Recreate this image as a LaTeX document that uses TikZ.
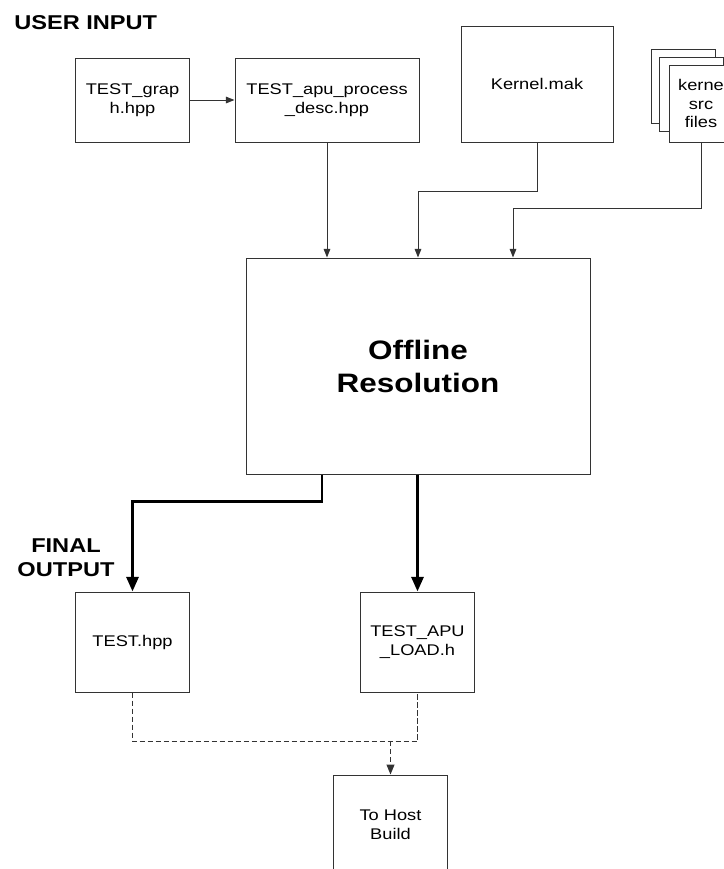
\documentclass[tikz,border=0pt]{standalone}
\usepackage{fontspec}
\setmainfont{Liberation Sans}[FakeStretch=1.18, Ligatures=CommonOff]
\usetikzlibrary{arrows.meta}

\tikzset{
  filebox/.style={draw=black!80, line width=0.75pt, fill=white, align=center,
    inner sep=0pt, font=\fontsize{11.6}{14}\selectfont},
  heading/.style={font=\fontsize{15}{18}\bfseries, align=center, inner sep=0pt},
  thinarrow/.style={draw=black!80, line width=0.75pt, -{Triangle[width=5pt,length=6.5pt]}},
  thickarrow/.style={line width=2.2pt, -{Triangle[width=9pt,length=11pt]}},
  dashline/.style={draw=black!80, line width=0.75pt, dash pattern=on 4pt off 2pt},
}

\begin{document}
\begin{tikzpicture}[x=0.75pt, y=-0.75pt]
\useasboundingbox (0,0) rectangle (724,869);
\clip (0,0) rectangle (724,869);

% labels
\node[heading, anchor=base west] (userinput) at (14,29) {USER INPUT};
\node[heading] (finalout) at (66,558) {FINAL\\OUTPUT};

% user input files
\node[filebox, minimum width=86pt, minimum height=63pt] (graph) at (132.5,100) {TEST\_grap\\h.hpp};
\node[filebox, minimum width=138pt, minimum height=63pt] (apu) at (327,100) {TEST\_apu\_process\\\_desc.hpp};
\node[filebox, minimum width=114pt, minimum height=87pt] (kmak) at (537,84) {Kernel.mak};
\node[filebox, minimum width=48pt, minimum height=55.5pt] (srcback) at (683,86) {};
\node[filebox, minimum width=48pt, minimum height=55.5pt] (srcmid) at (691,94) {};
\node[filebox, minimum width=48pt, minimum height=57.75pt] (srcfront) at (701,103.5) {kerne\\src\\files};

% resolver
\node[filebox, minimum width=258pt, minimum height=162pt,
  font=\fontsize{20}{24.75}\bfseries] (offline) at (418,366) {Offline\\Resolution};

% outputs
\node[filebox, minimum width=86pt, minimum height=75pt] (hpp) at (132.5,642) {TEST.hpp};
\node[filebox, minimum width=85pt, minimum height=75pt] (load) at (417.5,642) {TEST\_APU\\\_LOAD.h};
\node[filebox, minimum width=86pt, minimum height=75pt] (host) at (390.5,825) {To Host\\Build};

% inputs to resolver
\draw[thinarrow] (graph) -- (apu);
\draw[thinarrow] (apu.south) -- (apu.south |- offline.north);
\draw[thinarrow] (kmak.south) -- ++(0,49) -| (offline.north);
\draw[thinarrow] (srcfront.south) -- ++(0,66) -| (513,0 |- offline.north);

% resolver to outputs
\draw[thickarrow] (322,0 |- offline.south) -- ++(0,27) -| (hpp.north);
\draw[thickarrow] (load.north |- offline.south) -- (load.north);

% outputs to host build
\draw[dashline] (hpp.south) -- ++(0,49) -| (load.south);
\draw[dashline, -{Triangle[width=6pt,length=7.5pt]}] (host.north |- 0,741) -- (host.north);
\end{tikzpicture}
\end{document}
